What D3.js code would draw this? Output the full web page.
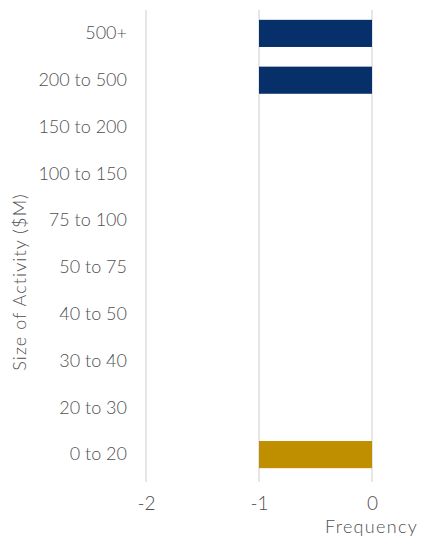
<!DOCTYPE html>
<html><head><meta charset="utf-8">
<script src="https://cdn.jsdelivr.net/npm/d3@7"></script>
<style>body{margin:0;background:#fff}svg{display:block}text{font-family:Lato,"Open Sans",sans-serif;fill:#505050;font-weight:300}</style>
</head><body><svg id="c" width="422" height="536"></svg>
<script>
const categories = ["500+","200 to 500","150 to 200","100 to 150","75 to 100","50 to 75","40 to 50","30 to 40","20 to 30","0 to 20"];
const values = [-1,-1,0,0,0,0,0,0,0,-1];
const seriesOf = ["large","large","large","large","large","large","large","large","large","small"];
const seriesColors = {large:"#07306A", small:"#BF8F00"};
const xTicks = [-2,-1,0];
const xTitle = "Frequency";
const yTitle = "Size of Activity ($M)";

const svg = d3.select("#c");
const m = {l:146, r:50, t:10, b:58};
const W = 422, H = 536;
const x = d3.scaleLinear().domain([-2,0]).range([m.l, W-m.r]);
const y = d3.scaleBand().domain(categories).range([m.t, H-m.b]).paddingInner(0.42).paddingOuter(0.21);

svg.append("g").selectAll("line").data(xTicks).join("line")
  .attr("x1",d=>x(d)).attr("x2",d=>x(d)).attr("y1",m.t).attr("y2",H-m.b+4)
  .attr("stroke","#d9d9d9").attr("stroke-width",1.3);

svg.append("g").selectAll("rect").data(categories.map((c,i)=>({c,v:values[i],s:seriesOf[i]})).filter(d=>d.v!==0)).join("rect")
  .attr("x",d=>x(Math.min(0,d.v))).attr("width",d=>Math.abs(x(d.v)-x(0)))
  .attr("y",d=>y(d.c)).attr("height",y.bandwidth())
  .attr("fill",d=>seriesColors[d.s]);

const ya = svg.append("g").attr("transform",`translate(${m.l-19},0)`)
  .call(d3.axisLeft(y).tickSize(0).tickPadding(0));
ya.select(".domain").remove();
ya.selectAll("text").attr("font-size",18).style("font-family","Lato,sans-serif").style("font-weight",300).attr("fill","#505050");

const xa = svg.append("g").attr("transform",`translate(0,${H-m.b+13})`)
  .call(d3.axisBottom(x).tickValues(xTicks).tickSize(0).tickPadding(6).tickFormat(d=>String(d).replace("\u2212","-")));
xa.select(".domain").remove();
xa.selectAll("text").attr("font-size",19).style("font-family","Lato,sans-serif").style("font-weight",300).attr("fill","#505050");

svg.append("text").attr("x",418).attr("y",533).attr("text-anchor","end").attr("font-size",18).attr("letter-spacing",1.3).text(xTitle);
svg.append("text").attr("transform",`translate(26,282) rotate(-90)`).attr("text-anchor","middle").attr("font-size",18).attr("letter-spacing",1.1).text(yTitle);
</script></body></html>
